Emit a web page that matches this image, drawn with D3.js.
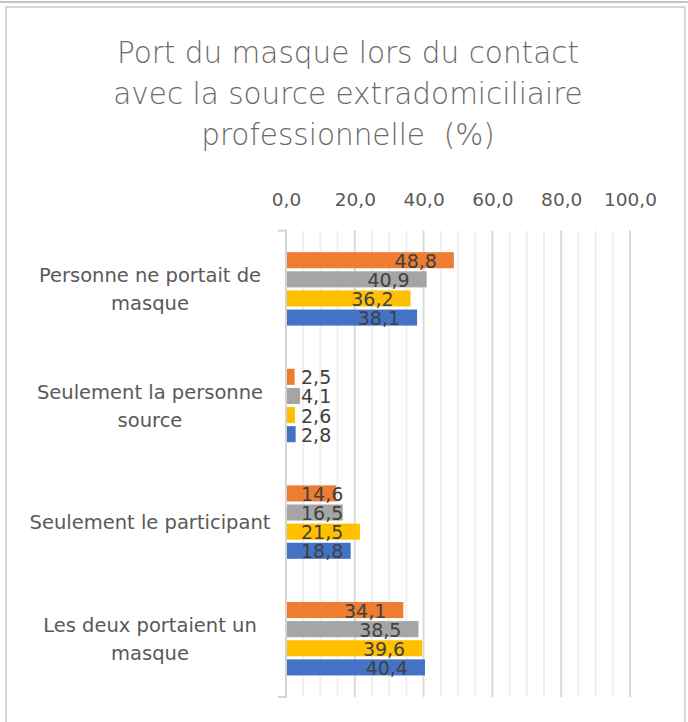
<!DOCTYPE html>
<html>
<head>
<meta charset="utf-8">
<script src="https://cdn.jsdelivr.net/npm/d3@7"></script>
<style>
  html, body { margin: 0; padding: 0; background: #fff; }
  svg { display: block; font-family: "DejaVu Sans", sans-serif; }
</style>
</head>
<body>
<svg id="chart"></svg>
<script>
// data
var categories = [
  "Personne ne portait de masque",
  "Seulement la personne source",
  "Seulement le participant",
  "Les deux portaient un masque"
];
// series listed top to bottom inside each group
var seriesNames = ["Série A", "Série B", "Série C", "Série D"];
var seriesColors = ["#ED7D31", "#A5A5A5", "#FFC000", "#4472C4"];
var serieA = [48.8, 2.5, 14.6, 34.1];
var serieB = [40.9, 4.1, 16.5, 38.5];
var serieC = [36.2, 2.6, 21.5, 39.6];
var serieD = [38.1, 2.8, 18.8, 40.4];
var seriesValues = [serieA, serieB, serieC, serieD];
var tickValues = [0, 20, 40, 60, 80, 100];
var titleLines = ["Port du masque lors du contact", "avec la source extradomiciliaire", "professionnelle  (%)"];

var W = 688, H = 722;
var margin = {top: 230.6, left: 286, right: 58, bottom: 25};

var svg = d3.select("#chart").attr("width", W).attr("height", H);

var fr = d3.formatLocale({decimal: ",", thousands: " ", grouping: [3], currency: ["", " €"]});
var fmt = fr.format(".1f");

// frame
svg.append("line").attr("x1", 0).attr("x2", W).attr("y1", 2).attr("y2", 2)
    .attr("stroke", "#c4c4c4").attr("stroke-width", 2);
svg.append("rect").attr("x", 6).attr("y", 7).attr("width", 679).attr("height", 730)
    .attr("fill", "#fff").attr("stroke", "#d6d6d6").attr("stroke-width", 2);

// title
svg.append("g").selectAll("text")
    .data(titleLines)
  .enter().append("text")
    .attr("x", 348)
    .attr("y", function(d, i) { return 63 + i * 41; })
    .attr("text-anchor", "middle")
    .attr("fill", "#6a6a6a")
    .attr("font-size", "29.5px")
    .attr("font-weight", 200)
    .style("white-space", "pre")
    .text(function(d) { return d; });

// scales
var x = d3.scaleLinear().domain([0, 100]).range([margin.left, W - margin.right]);
var y0 = d3.scaleBand()
    .domain(categories)
    .range([margin.top, H - margin.bottom])
    .paddingInner(0.37)
    .paddingOuter(0.185);
var y1 = d3.scaleBand()
    .domain(seriesNames)
    .range([0, y0.bandwidth()])
    .paddingInner(0.16);

var plotTop = margin.top, plotBottom = H - margin.bottom;

// minor gridlines
svg.append("g").selectAll("line")
    .data(x.ticks(25).filter(function(d) { return d % 20 !== 0; }))
  .enter().append("line")
    .attr("x1", function(d) { return x(d); })
    .attr("x2", function(d) { return x(d); })
    .attr("y1", plotTop).attr("y2", plotBottom)
    .attr("stroke", "#f0f0f0").attr("stroke-width", 2);

// major gridlines
svg.append("g").selectAll("line")
    .data(tickValues.slice(1))
  .enter().append("line")
    .attr("x1", function(d) { return x(d); })
    .attr("x2", function(d) { return x(d); })
    .attr("y1", plotTop).attr("y2", plotBottom)
    .attr("stroke", "#d9d9d9").attr("stroke-width", 2);

// top axis labels
var xAxis = svg.append("g")
    .attr("transform", "translate(0,206)")
    .call(d3.axisTop(x).tickValues(tickValues).tickFormat(fmt).tickSize(0).tickPadding(0));
xAxis.select(".domain").remove();
xAxis.selectAll("text")
    .attr("font-family", "DejaVu Sans, sans-serif")
    .attr("font-size", "18.5px")
    .attr("fill", "#595959")
    .attr("dy", 0);

// bars
var groups = svg.append("g").selectAll("g")
    .data(categories)
  .enter().append("g")
    .attr("transform", function(d) { return "translate(0," + y0(d) + ")"; });

groups.selectAll("rect")
    .data(function(d, ci) {
      return seriesNames.map(function(s, si) {
        return {series: s, color: seriesColors[si], value: seriesValues[si][ci]};
      });
    })
  .enter().append("rect")
    .attr("x", x(0))
    .attr("y", function(d) { return y1(d.series); })
    .attr("width", function(d) { return x(d.value) - x(0); })
    .attr("height", y1.bandwidth())
    .attr("fill", function(d) { return d.color; });

// data labels
groups.selectAll("text")
    .data(function(d, ci) {
      return seriesNames.map(function(s, si) {
        return {series: s, value: seriesValues[si][ci]};
      });
    })
  .enter().append("text")
    .attr("y", function(d) { return y1(d.series) + y1.bandwidth() / 2 + 7.5; })
    .attr("font-size", "19px")
    .attr("fill", "#404040")
    .text(function(d) { return fmt(d.value); })
    .each(function(d) {
      var t = d3.select(this);
      var w = this.getComputedTextLength();
      var start = x(d.value) - 17 - w;
      if (start < x(0) + 15) start = x(0) + 15;
      t.attr("x", start);
    });

// category axis line with end ticks
var axisColor = "#d4d4d4";
svg.append("line")
    .attr("x1", x(0)).attr("x2", x(0))
    .attr("y1", plotTop - 1).attr("y2", plotBottom + 1)
    .attr("stroke", axisColor).attr("stroke-width", 2);
svg.append("g").selectAll("line")
    .data([plotTop, plotBottom])
  .enter().append("line")
    .attr("x1", x(0) - 8).attr("x2", x(0))
    .attr("y1", function(d) { return d; })
    .attr("y2", function(d) { return d; })
    .attr("stroke", axisColor).attr("stroke-width", 2);

// category labels, wrapped
var catLabels = svg.append("g").selectAll("text")
    .data(categories)
  .enter().append("text")
    .attr("text-anchor", "middle")
    .attr("font-size", "19.5px")
    .attr("fill", "#595959");

catLabels.each(function(d) {
  var t = d3.select(this);
  var words = d.split(" "), lines = [], line = [];
  words.forEach(function(w) {
    line.push(w);
    t.text(line.join(" "));
    if (this.getComputedTextLength() > 245 && line.length > 1) {
      line.pop();
      lines.push(line.join(" "));
      line = [w];
    }
  }, this);
  lines.push(line.join(" "));
  t.text(null);
  var cy = y0(d) + y0.bandwidth() / 2;
  lines.forEach(function(l, i) {
    t.append("tspan")
      .attr("x", 150)
      .attr("y", cy + 7 + (i - (lines.length - 1) / 2) * 28)
      .text(l);
  });
});
</script>
</body>
</html>
